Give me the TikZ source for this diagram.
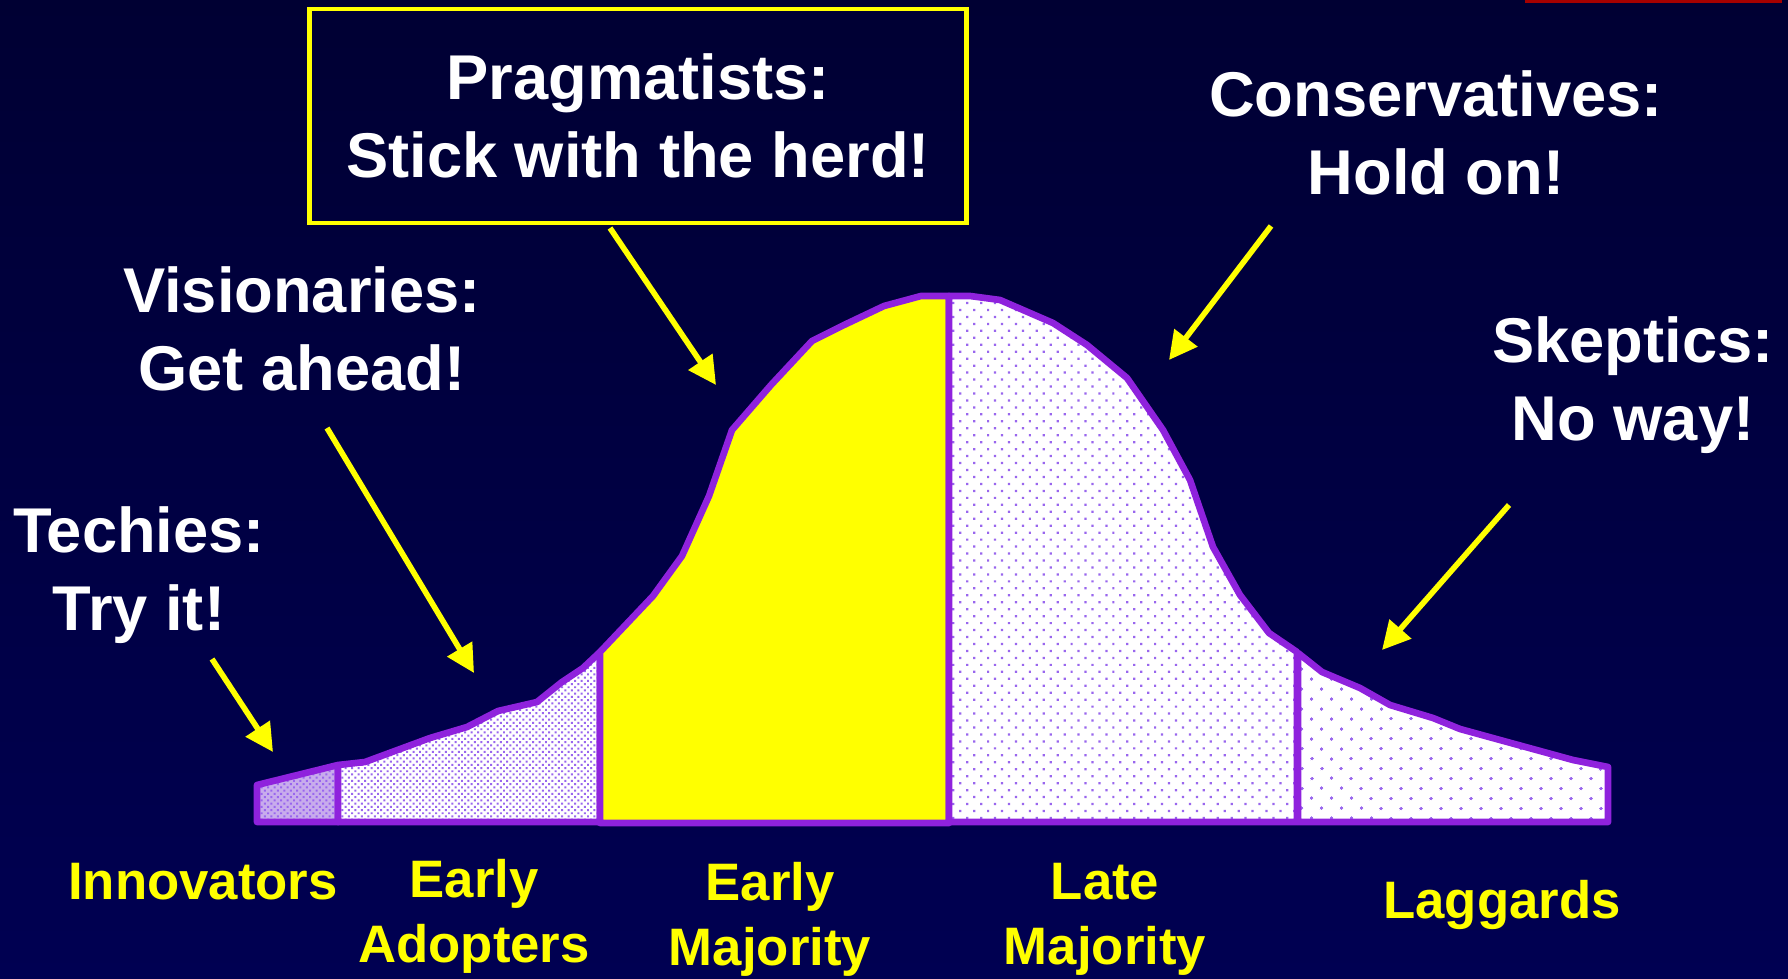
\documentclass[tikz,border=0pt]{standalone}
\usepackage{fontspec}
\setmainfont{Liberation Sans}
\usepackage{xcolor}
\usepackage{tikz}
\usetikzlibrary{arrows.meta, patterns.meta, positioning}
\definecolor{bgtop}{HTML}{000033}
\definecolor{bgbottom}{HTML}{000052}
\definecolor{curvecolor}{HTML}{8F22DD}
\definecolor{dotcolor}{HTML}{9966EE}
\definecolor{innofill}{HTML}{C8ACEC}
\definecolor{labelyellow}{HTML}{FFFF00}
\definecolor{barred}{HTML}{A50000}

\begin{document}
\begin{tikzpicture}[
    quote/.style={text=white, font=\fontsize{18}{22}\selectfont\bfseries, align=center},
    segment/.style={text=labelyellow, font=\fontsize{15}{18.5}\selectfont\bfseries, align=center},
    pointer/.style={-{Triangle[length=2.8mm, width=2.8mm]}, labelyellow, line width=1.6pt},
    region/.style={draw=curvecolor, line width=1.9pt, line join=round},
    densedots/.style={preaction={fill=#1}, pattern={Dots[radius=0.4pt, distance=1.3pt, angle=45]}, pattern color=dotcolor},
    middots/.style={preaction={fill=white}, pattern={Dots[radius=0.45pt, distance=2.8pt, angle=45]}, pattern color=dotcolor},
    sparsedots/.style={preaction={fill=white}, pattern={Dots[radius=0.45pt, distance=4pt, angle=45]}, pattern color=dotcolor}
]
% background
\useasboundingbox (0,0) rectangle (17.88,9.78);
\fill[top color=bgtop, bottom color=bgbottom] (0,0) rectangle (17.88,9.78);
\fill[barred] (15.25,9.75) rectangle (17.82,9.78);

% the adoption curve
\draw[region, densedots=innofill] (2.57,1.56) -- (2.57,1.93) -- (3.38,2.13) -- (3.38,1.56) -- cycle;
\draw[region, densedots=white] (3.38,1.56) -- (3.38,2.13) -- (3.65,2.16) -- (4.30,2.40) -- (4.67,2.51)
    -- (4.98,2.67) -- (5.37,2.76) -- (5.62,2.96) -- (5.83,3.10) -- (6.00,3.26) -- (6.00,1.56) -- cycle;
\draw[region, fill=labelyellow] (6.00,1.55) -- (6.00,3.26) -- (6.53,3.82) -- (6.82,4.22) -- (7.09,4.82)
    -- (7.32,5.48) -- (7.71,5.93) -- (8.12,6.37) -- (8.44,6.53) -- (8.84,6.72) -- (9.21,6.82)
    -- (9.49,6.82) -- (9.49,1.55) -- cycle;
\draw[region, middots] (9.49,1.56) -- (9.49,6.82) -- (9.70,6.82) -- (10.00,6.78) -- (10.53,6.55)
    -- (10.87,6.33) -- (11.27,6.00) -- (11.63,5.48) -- (11.90,4.98) -- (12.13,4.31) -- (12.40,3.83)
    -- (12.69,3.45) -- (12.97,3.26) -- (12.97,1.56) -- cycle;
\draw[region, sparsedots] (12.98,1.56) -- (12.98,3.25) -- (13.22,3.06) -- (13.60,2.90) -- (13.90,2.73)
    -- (14.33,2.60) -- (14.60,2.49) -- (15.00,2.38) -- (15.73,2.18) -- (16.08,2.11) -- (16.08,1.56) -- cycle;

% attitudes
\node[quote, draw=labelyellow, line width=1.4pt, minimum width=6.57cm, minimum height=2.14cm] (pragmatists) at (6.38,8.62) {Pragmatists:\\Stick with the herd!};
\node[quote] (conservatives) at (14.36,8.45) {Conservatives:\\Hold on!};
\node[quote] (visionaries) at (3.02,6.49) {Visionaries:\\Get ahead!};
\node[quote] (skeptics) at (16.33,5.93) {Skeptics:\\No way!};
\node[quote] (techies) at (1.39,4.03) {Techies:\\Try it!};

% segments
\node[segment] (innovators) at (2.03,0.96) {Innovators};
\node[segment] (adopters) at (4.74,0.62) {Early\\Adopters};
\node[segment] (earlymaj) at (7.70,0.59) {Early\\Majority};
\node[segment] (latemaj) at (11.05,0.59) {Late\\Majority};
\node[segment] (laggards) at (15.02,0.73) {Laggards};

% arrows
\coordinate (pragTail) at (6.10,7.50);
\coordinate (pragTip) at (7.16,5.93);
\coordinate (consTail) at (12.71,7.52);
\coordinate (consTip) at (11.69,6.18);
\coordinate (visTail) at (3.27,5.50);
\coordinate (visTip) at (4.74,3.05);
\coordinate (skepTail) at (15.09,4.73);
\coordinate (skepTip) at (13.82,3.28);
\coordinate (techTail) at (2.12,3.19);
\coordinate (techTip) at (2.73,2.26);
\draw[pointer] (pragTail) -- (pragTip);
\draw[pointer] (consTail) -- (consTip);
\draw[pointer] (visTail) -- (visTip);
\draw[pointer] (skepTail) -- (skepTip);
\draw[pointer] (techTail) -- (techTip);
\end{tikzpicture}
\end{document}
